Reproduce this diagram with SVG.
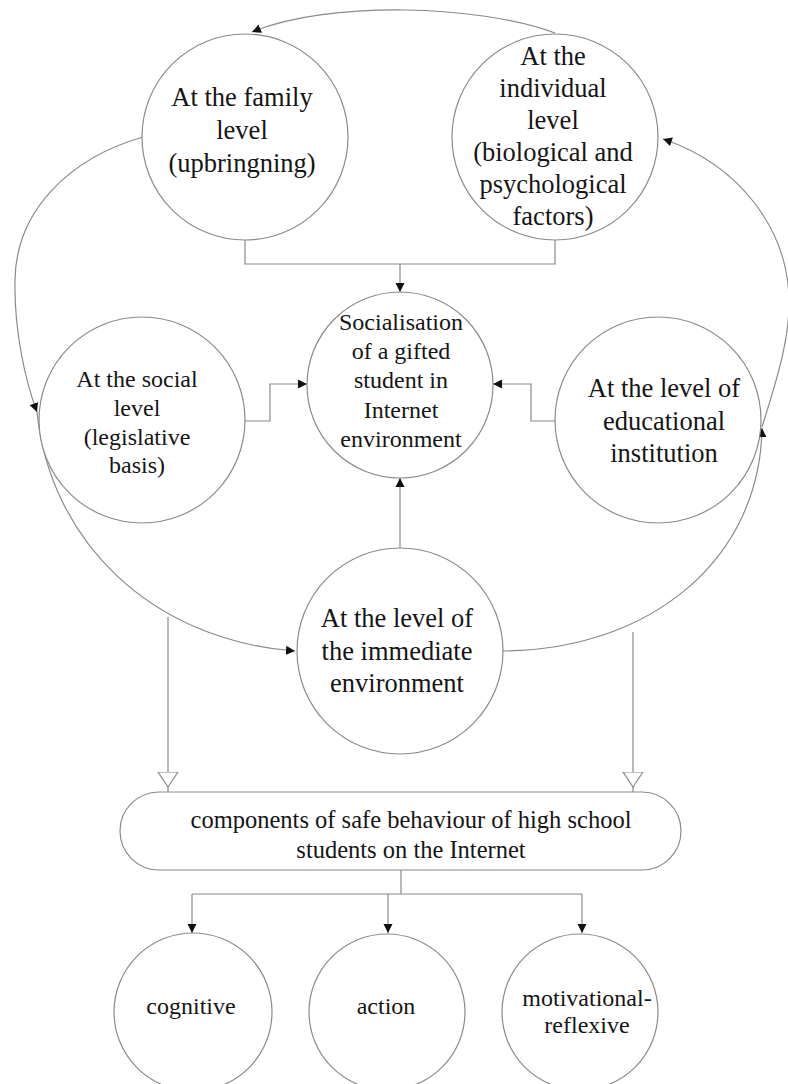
<svg xmlns="http://www.w3.org/2000/svg" width="788" height="1084" viewBox="0 0 788 1084">
<style>
.n{fill:#fff;stroke:#8a8a8a;stroke-width:1.2}
.c{fill:none;stroke:#8a8a8a;stroke-width:1.2}
text{font-family:"Liberation Serif","Times New Roman",serif;fill:#151515;text-anchor:middle}
.big{font-size:26.5px}
.mid{font-size:24px}
</style>
<defs>
<marker id="ah" markerUnits="userSpaceOnUse" markerWidth="10" markerHeight="10" viewBox="0 0 10 10" refX="9" refY="5" orient="auto">
<path d="M0,0.5 L9,5 L0,9.5 Z" fill="#111"/>
</marker>
<marker id="hol" markerUnits="userSpaceOnUse" markerWidth="22" markerHeight="22" viewBox="0 0 22 22" refX="20" refY="11" orient="auto">
<path d="M0,1 L15,11 L0,21 Z" fill="#fff" stroke="#8a8a8a" stroke-width="1.2"/>
</marker>
</defs>
<rect width="788" height="1084" fill="#fff"/>
<g id="connectors">
<path class="c" d="M555,33 C480,5 330,0 252,32" marker-end="url(#ah)"/>
<path class="c" d="M143,137 C70,158 16,210 15,280 C14,330 25,380 37,412" marker-end="url(#ah)"/>
<path class="c" d="M37,412 C50,540 150,640 295,651" marker-end="url(#ah)"/>
<path class="c" d="M503,651 C650,650 760,560 762,428" marker-end="url(#ah)"/>
<path class="c" d="M762,427 C775,385 790,340 789,300 C788,230 740,165 663,139" marker-end="url(#ah)"/>
<path class="c" d="M245,240 V264 H555 V240"/>
<path class="c" d="M400,264 V292" marker-end="url(#ah)"/>
<path class="c" d="M245,421 H270 V384 H307" marker-end="url(#ah)"/>
<path class="c" d="M555,421 H531 V384 H493" marker-end="url(#ah)"/>
<path class="c" d="M400,548 V478" marker-end="url(#ah)"/>
<path class="c" d="M168,617 V792" marker-end="url(#hol)"/>
<path class="c" d="M633,632 V792" marker-end="url(#hol)"/>
<path class="c" d="M401,870 V894 M192,894 H582"/>
<path class="c" d="M192,894 V933" marker-end="url(#ah)"/>
<path class="c" d="M388,894 V933" marker-end="url(#ah)"/>
<path class="c" d="M582,894 V933" marker-end="url(#ah)"/>
</g>
<g id="family">
<circle class="n" cx="245" cy="137" r="103"/>
<text class="big" x="242" y="106">At the family</text>
<text class="big" x="242" y="139">level</text>
<text class="big" x="242" y="172">(upbringning)</text>
</g>
<g id="individual">
<circle class="n" cx="555" cy="137" r="103"/>
<text class="big" x="553" y="65">At the</text>
<text class="big" x="553" y="97">individual</text>
<text class="big" x="553" y="129">level</text>
<text class="big" x="553" y="161">(biological and</text>
<text class="big" x="553" y="193">psychological</text>
<text class="big" x="553" y="225">factors)</text>
</g>
<g id="social">
<circle class="n" cx="142" cy="420" r="103"/>
<text class="mid" x="137" y="387">At the social</text>
<text class="mid" x="137" y="416">level</text>
<text class="mid" x="137" y="445">(legislative</text>
<text class="mid" x="137" y="473">basis)</text>
</g>
<g id="center">
<circle class="n" cx="400" cy="385" r="93"/>
<text class="mid" x="401" y="330">Socialisation</text>
<text class="mid" x="401" y="359">of a gifted</text>
<text class="mid" x="401" y="388">student in</text>
<text class="mid" x="401" y="418">Internet</text>
<text class="mid" x="401" y="447">environment</text>
</g>
<g id="education">
<circle class="n" cx="658" cy="420" r="103"/>
<text class="big" x="664" y="397">At the level of</text>
<text class="big" x="664" y="430">educational</text>
<text class="big" x="664" y="462">institution</text>
</g>
<g id="immediate">
<circle class="n" cx="400" cy="651" r="103"/>
<text class="big" x="397" y="627">At the level of</text>
<text class="big" x="397" y="660">the immediate</text>
<text class="big" x="397" y="692">environment</text>
</g>
<g id="components">
<rect class="n" x="120" y="792" width="561" height="78" rx="39" ry="39"/>
<text style="font-size:24.5px" x="411" y="828">components of safe behaviour of high school</text>
<text style="font-size:24.5px" x="411" y="858">students on the Internet</text>
</g>
<g id="cognitive">
<circle class="n" cx="193" cy="1012" r="79"/>
<text class="mid" x="191" y="1014">cognitive</text>
</g>
<g id="action">
<circle class="n" cx="387" cy="1012" r="78"/>
<text class="mid" x="386" y="1014">action</text>
</g>
<g id="motivational">
<circle class="n" cx="580" cy="1012" r="78"/>
<text class="mid" x="587" y="1006">motivational-</text>
<text class="mid" x="587" y="1033">reflexive</text>
</g>
</svg>
